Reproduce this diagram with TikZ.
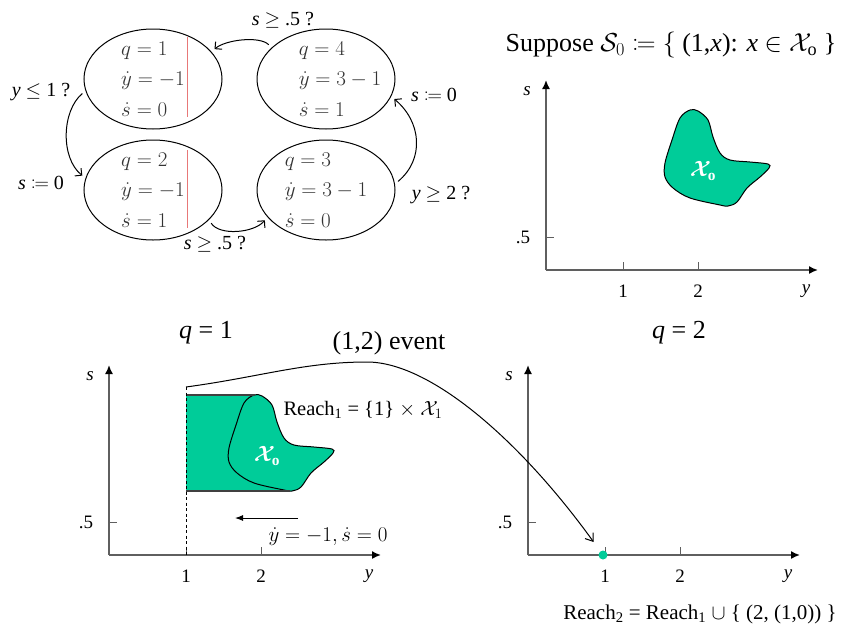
\documentclass[tikz,border=0pt]{standalone}
\usepackage{fix-cm}
\usepackage{mathtools}
\usepackage{fontspec}
\setmainfont{Liberation Serif}
\usetikzlibrary{arrows.meta,shapes.geometric}
\definecolor{reach}{HTML}{00CC99}
\definecolor{axis}{HTML}{5F5F5F}
\definecolor{modetext}{HTML}{333333}
\definecolor{cutred}{HTML}{E87878}
% outline of the initial set, around its own reference point
\newcommand\blob{plot[smooth cycle,tension=0.55] coordinates {(-10,-50) (-2,-49) (8,-40) (13,-23) (20,-7) (30,0) (50,2) (68,4) (69,8) (60,17) (47,28) (37,42) (28,46) (20,45) (-10,38) (-27,28) (-35,17) (-35,3) (-28,-20) (-20,-42)}}

\begin{document}
\begin{tikzpicture}[x=1pt,y=-1pt,line width=1pt,
  mode/.style={draw,ellipse,minimum width=138pt,minimum height=100pt,inner sep=0pt},
  flow/.style={align=left,text=modetext,font=\fontsize{21}{30.5}\selectfont},
  guard/.style={font=\fontsize{20}{22}\selectfont},
  edge/.style={-{Straight Barb[length=5pt,width=10pt]},shorten <=4pt,shorten >=4pt},
  axisline/.style={draw=axis,line width=1.6pt,-{Latex[length=9pt,width=8pt,color=black]}},
  tick/.style={draw=axis,line width=1pt},
  lbl/.style={font=\fontsize{19}{21}\selectfont},
  title/.style={font=\fontsize{26}{29}\selectfont}]
  \useasboundingbox (0,0) rectangle (865,635);

  % hybrid automaton
  \node[mode] (m1) at (153,79) {};
  \node[mode] (m4) at (326,79) {};
  \node[mode] (m2) at (153,190) {};
  \node[mode] (m3) at (326,190) {};
  \node[flow] (f1) at (m1) {$q=1$\\$\dot y=-1$\\$\dot s=0$};
  \node[flow,xshift=14pt] (f4) at (m4) {$q=4$\\$\dot y=3-1$\\$\dot s=1$};
  \node[flow] (f2) at (m2) {$q=2$\\$\dot y=-1$\\$\dot s=1$};
  \node[flow] (f3) at (m3) {$q=3$\\$\dot y=3-1$\\$\dot s=0$};
  \draw[cutred,line width=0.8pt] (187,37) -- (187,117) (187,150) -- (187,228);
  \draw[edge] (m4.150) .. controls +(-12,-12) and +(14,-12) .. (m1.25);
  \draw[edge] (m1.190) .. controls +(-24,20) and +(-25,-20) .. (m2.170);
  \draw[edge] (m2.-28) .. controls +(10,16) and +(-14,16) .. (m3.205);
  \draw[edge] (m3.5) .. controls +(30,-25) and +(30,25) .. (m4.-15);
  \node[guard] (g41) at (283,20) {\textit{s} $\geq$ .5 ?};
  \node[guard] (g12) at (41,92) {\textit{y} $\leq$ 1 ?};
  \node[guard] (r12) at (41,183) {\textit{s} $\coloneqq$ 0};
  \node[guard] (g23) at (215,244) {\textit{s} $\geq$ .5 ?};
  \node[guard] (r34) at (434,95) {\textit{s} $\coloneqq$ 0};
  \node[guard] (g34) at (441,195) {\textit{y} $\geq$ 2 ?};

  % three state-space panels
  \foreach \ox/\oy/\p in {546/270/a,109/555/b,528/555/c}{
    \coordinate (o\p) at (\ox,\oy);
    \draw[axisline] (o\p) -- ++(0,-190);
    \draw[axisline] (o\p) -- ++(272,0);
    \draw[tick] (\ox,\oy-33) -- ++(8,0);
    \draw[tick] (\ox+77,\oy) -- ++(0,-8);
    \draw[tick] (\ox+152,\oy) -- ++(0,-8);
    \node[lbl] (s-\p) at (\ox-19,\oy-179) {\textit{s}};
    \node[lbl] (h-\p) at (\ox-23,\oy-33) {.5};
    \node[lbl] (one-\p) at (\ox+77,\oy+21) {1};
    \node[lbl] (two-\p) at (\ox+152,\oy+21) {2};
    \node[lbl] (y-\p) at (\ox+260,\oy+21) {\textit{y}};
  }

  % initial set
  \node[title] (sup) at (671,45) {Suppose $\mathcal{S}_0 \coloneqq \{$ (1,\textit{x}): \textit{x} $\in \mathcal{X}_{\mathrm{o}}$ \}};
  \filldraw[fill=reach,draw=black,shift={(700,160)}] \blob;
  \node[text=white,font=\fontsize{22}{24}\selectfont\boldmath] (x0) at (703,171) {$\mathcal{X}_{\mathrm{o}}$};

  % reach set in mode 1
  \node[title] (q1) at (206,333) {\textit{q} = 1};
  \begin{scope}
    \clip (186,380) rectangle (420,500);
    \foreach \d in {0,2,...,110}
      \fill[reach,shift={(264-\d,445)}] \blob;
  \end{scope}
  \draw[shift={(264,445)}] \blob;
  \draw[draw=black!75,line width=1.5pt] (186,395) -- (255,395) (186,491) -- (290,491);
  \coordinate (ev) at (186,387);
  \draw[dash pattern=on 3pt off 2.5pt] (ev) -- (186,555);
  \node[text=white,font=\fontsize{22}{24}\selectfont\boldmath] (x0b) at (267,456) {$\mathcal{X}_{\mathrm{o}}$};
  \node[lbl,font=\fontsize{20.5}{23}\selectfont] (reach1) at (363,410) {Reach\textsubscript{1} = \{1\} $\times$ $\mathcal{X}_1$};
  \coordinate (va) at (298,518);
  \coordinate (vb) at (235,518);
  \draw[-{Latex[length=8pt,width=6pt]}] (va) -- (vb);
  \node[font=\fontsize{21}{24}\selectfont] (vel) at (328,537) {$\dot y=-1,\dot s=0$};

  % jump to mode 2
  \node[title] (q2) at (679,333) {\textit{q} = 2};
  \node[circle,fill=reach,inner sep=0pt,minimum size=9pt] (dot) at (603,555) {};
  \draw[-{Straight Barb[length=7pt,width=10pt]},shorten >=11pt] (ev) .. controls (260,377) and (304,362) .. (367,362) .. controls (430,362) and (520,440) .. (dot);
  \node[title] (evt) at (389,343) {(1,2) event};
  \node[lbl,font=\fontsize{21}{23}\selectfont] (reach2) at (700,614) {Reach\textsubscript{2} = Reach\textsubscript{1} $\cup$ \{ (2, (1,0)) \}};
\end{tikzpicture}
\end{document}
